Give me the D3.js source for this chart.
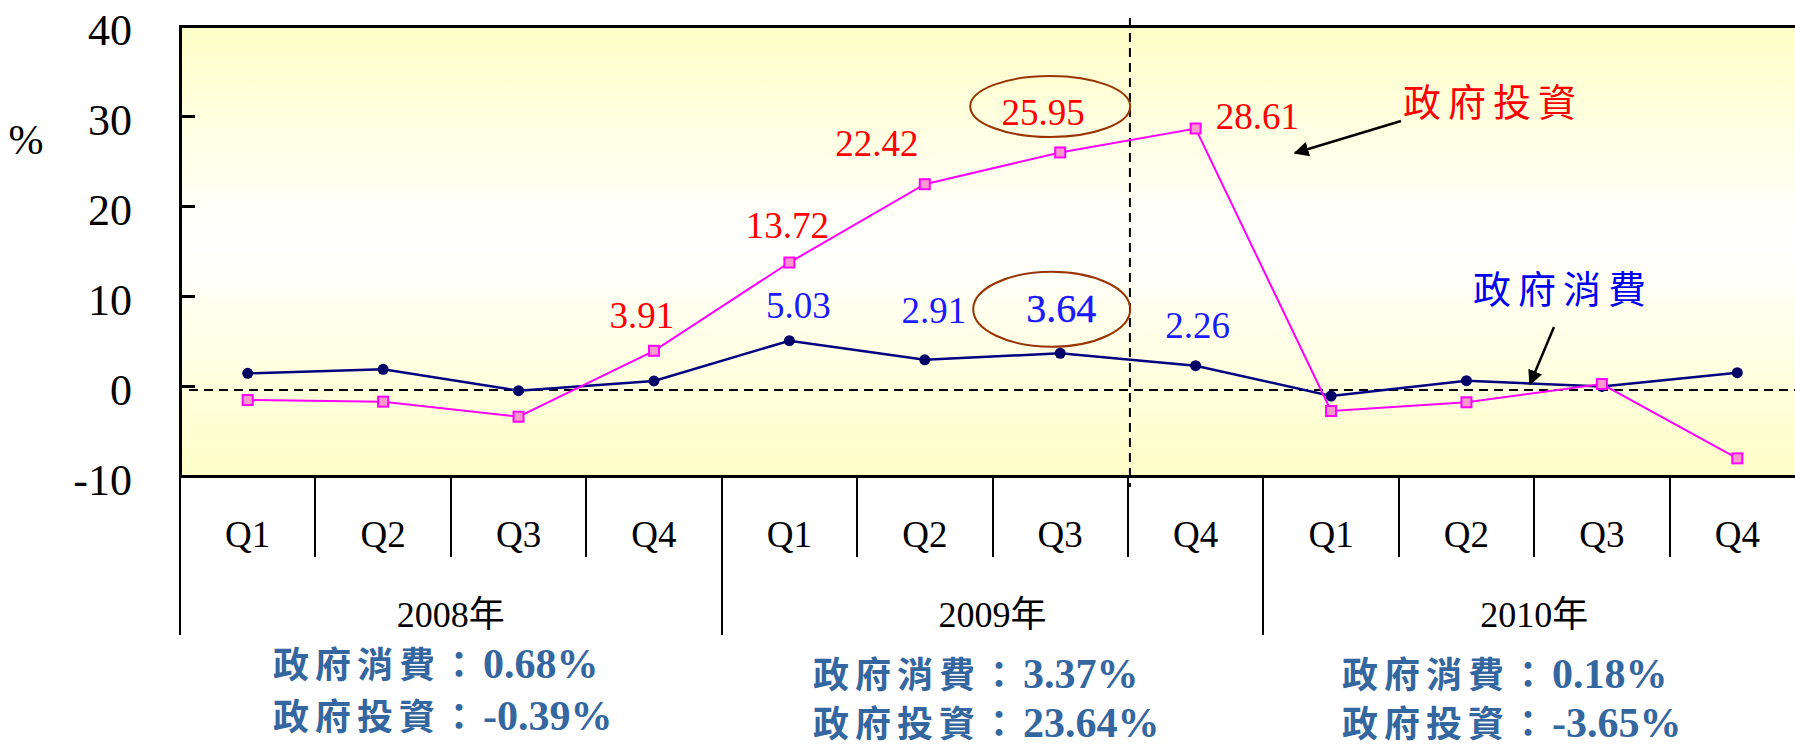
<!DOCTYPE html>
<meta charset="utf-8">
<style>

body {
  margin: 0;
  background: #fff;
}

svg {
  font-family: "Liberation Serif", "Noto Sans CJK TC", serif;
}

.axis path {
  display: none;
}

.axis line,
.frame,
.divider {
  stroke: #000;
  shape-rendering: crispEdges;
}

.ref {
  stroke: #000;
  stroke-width: 2;
  stroke-dasharray: 9 6;
  fill: none;
}

.cjk {
  font-family: "Noto Sans CJK TC", sans-serif;
}

.summary {
  fill: #3466a0;
  font-weight: bold;
}
</style>
<body>
<script src="https://cdnjs.cloudflare.com/ajax/libs/d3/7.8.5/d3.min.js"></script>
<script>

var quarters = ["Q1", "Q2", "Q3", "Q4"],
    years = ["2008年", "2009年", "2010年"];

var consumption = [1.41, 1.85, -0.52, 0.56, 5.03, 2.91, 3.64, 2.26, -1.11, 0.59, -0.05, 1.48],
    investment = [-1.56, -1.74, -3.41, 3.91, 13.72, 22.42, 25.95, 28.61, -2.78, -1.81, 0.22, -8.04];

var yTicks = [-10, 0, 10, 20, 30, 40],
    refValue = -0.45;

var consumptionAvg = ["0.68%", "3.37%", "0.18%"],
    investmentAvg = ["-0.39%", "23.64%", "-3.65%"];

var width = 1795,
    height = 745,
    plotTop = 26,
    plotBottom = 476,
    plotLeft = 180,
    plotRight = 1805;

var x = d3.scaleBand()
    .domain(d3.range(consumption.length))
    .range([plotLeft, plotRight]);

var y = d3.scaleLinear()
    .domain([-10, 40])
    .range([plotBottom, plotTop]);

var bw = x.bandwidth();
function cx(i) { return x(i) + bw / 2; }

var svg = d3.select("body").append("svg")
    .attr("width", width)
    .attr("height", height);

var defs = svg.append("defs");

var grad = defs.append("linearGradient")
    .attr("id", "bg")
    .attr("x1", 0).attr("y1", 0).attr("x2", 0).attr("y2", 1);
grad.append("stop").attr("offset", "0%").attr("stop-color", "#ffffc8");
grad.append("stop").attr("offset", "48%").attr("stop-color", "#ffffff");
grad.append("stop").attr("offset", "100%").attr("stop-color", "#ffffc8");

defs.append("marker")
    .attr("id", "head")
    .attr("viewBox", "0 0 10 10")
    .attr("refX", 9)
    .attr("refY", 5)
    .attr("markerWidth", 6)
    .attr("markerHeight", 6)
    .attr("orient", "auto")
  .append("path")
    .attr("d", "M0,0L10,5L0,10z")
    .attr("fill", "#000");

svg.append("rect")
    .attr("x", plotLeft)
    .attr("y", plotTop)
    .attr("width", plotRight - plotLeft)
    .attr("height", plotBottom - plotTop)
    .attr("fill", "url(#bg)");

// y axis, ticks pointing inward
svg.append("g")
    .attr("class", "axis")
    .attr("transform", "translate(" + plotLeft + ",0)")
    .call(d3.axisLeft(y).tickValues(yTicks).tickSize(-15).tickPadding(48)
        .tickFormat(function(d) { return String(d); }))
    .call(function(g) {
      g.selectAll("line").attr("stroke-width", 2.5);
      g.selectAll("text")
          .attr("dy", "0.41em")
          .attr("fill", "#000")
          .style("font-size", "44px")
          .style("font-family", "Liberation Serif");
    });

svg.append("text")
    .attr("x", 26)
    .attr("y", 154)
    .attr("text-anchor", "middle")
    .style("font-size", "42px")
    .text("%");

// quarter labels
svg.append("g")
    .attr("class", "axis")
    .attr("transform", "translate(0," + plotBottom + ")")
    .call(d3.axisBottom(x).tickSize(0).tickPadding(45).tickFormat(function(i) { return quarters[i % 4]; }))
    .call(function(g) {
      g.selectAll("text")
          .attr("fill", "#000")
          .style("font-size", "37px")
          .style("font-family", "Liberation Serif");
    });

svg.selectAll(".divider")
    .data(d3.range(consumption.length))
  .enter().append("line")
    .attr("class", "divider")
    .attr("stroke-width", 2)
    .attr("x1", function(i) { return x(i); })
    .attr("x2", function(i) { return x(i); })
    .attr("y1", plotBottom)
    .attr("y2", function(i) { return i % 4 === 0 ? 635 : 557; });

svg.selectAll(".year")
    .data(years)
  .enter().append("text")
    .attr("class", "year")
    .attr("x", function(d, i) { return x(i * 4 + 2); })
    .attr("y", 627)
    .attr("text-anchor", "middle")
    .style("font-size", "36px")
    .text(function(d) { return d; });

// frame
svg.append("path")
    .attr("class", "frame")
    .attr("fill", "none")
    .attr("stroke-width", 3)
    .attr("d", "M" + width + "," + plotTop + "H" + plotLeft + "V" + plotBottom + "H" + width);

// reference lines
svg.append("line")
    .attr("class", "ref")
    .attr("x1", 189).attr("x2", width)
    .attr("y1", y(refValue)).attr("y2", y(refValue));

svg.append("line")
    .attr("class", "ref")
    .attr("x1", x(7) + 2).attr("x2", x(7) + 2)
    .attr("y1", 18).attr("y2", 487);

var line = d3.line()
    .x(function(d, i) { return cx(i); })
    .y(function(d) { return y(d); });

svg.append("path")
    .datum(consumption)
    .attr("fill", "none")
    .attr("stroke", "#000080")
    .attr("stroke-width", 2.5)
    .attr("d", line);

svg.selectAll(".dot")
    .data(consumption)
  .enter().append("circle")
    .attr("class", "dot")
    .attr("cx", function(d, i) { return cx(i); })
    .attr("cy", function(d) { return y(d); })
    .attr("r", 5.5)
    .attr("fill", "#000066");

svg.append("path")
    .datum(investment)
    .attr("fill", "none")
    .attr("stroke", "#ff00ff")
    .attr("stroke-width", 2)
    .attr("d", line);

svg.selectAll(".sq")
    .data(investment)
  .enter().append("rect")
    .attr("class", "sq")
    .attr("x", function(d, i) { return cx(i) - 5; })
    .attr("y", function(d) { return y(d) - 5; })
    .attr("width", 10)
    .attr("height", 10)
    .attr("fill", "#ff99cc")
    .attr("stroke", "#ff00ff")
    .attr("stroke-width", 2);

// value labels: [index, dx, dy, anchor]
var invLabels = [[3, -12, -23, "middle"], [4, -2, -25, "middle"], [5, -48, -28, "middle"],
                 [6, -17, -27, "middle"], [7, 20, 0, "start"]],
    conLabels = [[4, 9, -23, "middle"], [5, 9, -37, "middle"], [6, 1, -31, "middle"], [7, 2, -28, "middle"]];

svg.selectAll(".inv-label")
    .data(invLabels)
  .enter().append("text")
    .attr("x", function(d) { return cx(d[0]) + d[1]; })
    .attr("y", function(d) { return y(investment[d[0]]) + d[2]; })
    .attr("text-anchor", function(d) { return d[3]; })
    .attr("fill", "#ff0000")
    .style("font-size", "37px")
    .text(function(d) { return investment[d[0]].toFixed(2); });

svg.selectAll(".con-label")
    .data(conLabels)
  .enter().append("text")
    .attr("x", function(d) { return cx(d[0]) + d[1]; })
    .attr("y", function(d) { return y(consumption[d[0]]) + d[2]; })
    .attr("text-anchor", function(d) { return d[3]; })
    .attr("fill", "#1a1aff")
    .style("font-size", function(d) { return d[0] === 6 ? "40px" : "37px"; })
    .attr("stroke", function(d) { return d[0] === 6 ? "#0000ee" : null; })
    .attr("stroke-width", 0.3)
    .text(function(d) { return consumption[d[0]].toFixed(2); });

// highlight ellipses round Q3 2009
svg.append("ellipse")
    .attr("cx", cx(6) - 10).attr("cy", y(investment[6]) - 46)
    .attr("rx", 80).attr("ry", 30.5)
    .attr("fill", "none").attr("stroke", "#993300").attr("stroke-width", 2);

svg.append("ellipse")
    .attr("cx", cx(6) - 8.5).attr("cy", y(consumption[6]) - 44)
    .attr("rx", 78.5).attr("ry", 37.5)
    .attr("fill", "none").attr("stroke", "#993300").attr("stroke-width", 2);

// series annotations
svg.append("text")
    .attr("class", "cjk")
    .attr("x", 1403)
    .attr("y", 116)
    .attr("fill", "#ff0000")
    .style("font-size", "38px")
    .style("letter-spacing", "7px")
    .text("政府投資");

svg.append("line")
    .attr("x1", 1401).attr("y1", 121).attr("x2", 1295).attr("y2", 153)
    .attr("stroke", "#000").attr("stroke-width", 2.5)
    .attr("marker-end", "url(#head)");

svg.append("text")
    .attr("class", "cjk")
    .attr("x", 1473)
    .attr("y", 303)
    .attr("fill", "#0000ee")
    .style("font-size", "38px")
    .style("letter-spacing", "7px")
    .text("政府消費");

svg.append("line")
    .attr("x1", 1554).attr("y1", 327).attr("x2", 1530).attr("y2", 384)
    .attr("stroke", "#000").attr("stroke-width", 2.5)
    .attr("marker-end", "url(#head)");

// yearly averages
var sumX = [273, 813, 1342],
    sumY = [[678, 730], [688, 737], [688, 737]];

years.forEach(function(yr, i) {
  [["政府消費：", consumptionAvg[i]], ["政府投資：", investmentAvg[i]]].forEach(function(row, j) {
    var t = svg.append("text")
        .attr("class", "summary")
        .attr("x", sumX[i])
        .attr("y", sumY[i][j]);
    t.append("tspan")
        .attr("class", "cjk")
        .style("font-size", "36px")
        .style("letter-spacing", "6px")
        .text(row[0]);
    t.append("tspan")
        .style("font-size", "42px")
        .text(row[1]);
  });
});

</script>
